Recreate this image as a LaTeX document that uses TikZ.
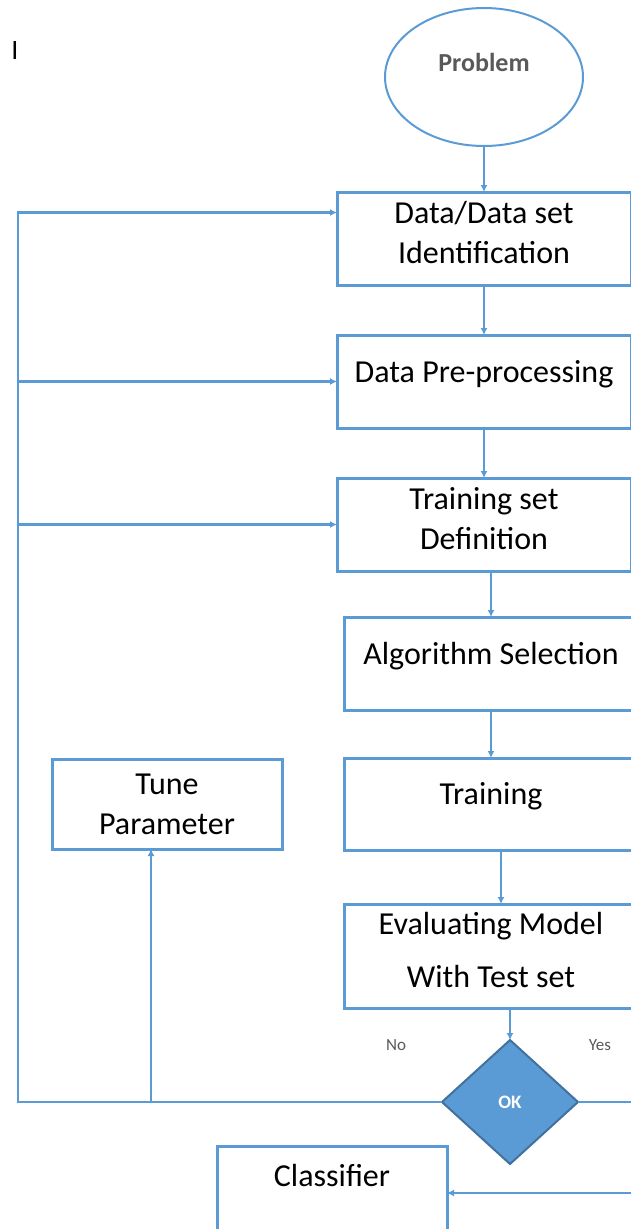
\documentclass[tikz,border=0pt]{standalone}
\usepackage{fontspec}
\setmainfont{Carlito}
\usetikzlibrary{arrows.meta, positioning, shapes.geometric}
\definecolor{msblue}{HTML}{5B9BD5}
\definecolor{msedge}{HTML}{41719C}
\definecolor{msgrey}{HTML}{595959}
\tikzset{
  block/.style={rectangle, draw=msblue, line width=3pt, minimum width=294pt, outer sep=0pt,
    minimum height=93pt, align=center, inner sep=2pt, font=\fontsize{32}{40}\selectfont},
  blockone/.style={block, text depth=21pt},
  blocktwo/.style={block, text depth=12pt},
  sidebox/.style={block, minimum width=230pt, minimum height=90pt},
  start/.style={ellipse, draw=msblue, line width=2pt, minimum width=198pt, minimum height=138pt,
    outer sep=0pt, font=\fontsize{26}{28}\selectfont\bfseries, text=msgrey, text depth=29pt},
  decision/.style={diamond, draw=msedge, line width=2pt, fill=msblue, minimum width=136pt,
    minimum height=124pt, inner sep=0pt, outer sep=0pt,
    font=\fontsize{19}{22}\selectfont\bfseries, text=white},
  smallnote/.style={font=\fontsize{17}{20}\selectfont, text=msgrey},
  arrow/.style={-{Latex[length=7pt, width=7pt]}, line width=2.5pt, msblue},
}
\begin{document}
\begin{tikzpicture}
\useasboundingbox (0,0) rectangle (630pt,-1229pt);
\node[font=\fontsize{28}{30}\selectfont] (mark) at (15pt,-51pt) {I};
% main chain
\node[blocktwo] (ident) at (484pt,-238.5pt) {Data/Data set\\Identification};
\node[start, above=46pt of ident] (prob) {Problem};
\node[blockone, below=50pt of ident] (prep) {Data Pre-processing};
\node[blocktwo, below=50pt of prep] (tset) {Training set\\Definition};
\node[blockone, below=46pt of tset, xshift=7pt] (algo) {Algorithm Selection};
\node[blockone, below=48pt of algo, minimum height=92pt] (train) {Training};
\node[blocktwo, below=54pt of train, minimum height=104pt] (eval) {Evaluating Model\\[13pt]With Test set};
\node[decision, below=32pt of eval, xshift=19pt] (ok) {OK};
\node[sidebox, left=62pt of train] (tune) {Tune\\Parameter};
\node[sidebox, minimum height=94pt, text depth=35pt] (clf) at (332pt,-1193pt) {Classifier};
\node[smallnote] (no) at ([xshift=-114pt, yshift=57pt]ok) {No};
\node[smallnote] (yes) at ([xshift=90pt, yshift=57pt]ok) {Yes};
\draw[arrow] (prob) -- (ident);
\draw[arrow] (ident) -- (prep);
\draw[arrow] (prep) -- (tset);
\draw[arrow] (tset.south -| algo.north) -- (algo.north);
\draw[arrow] (algo) -- (train);
\draw[arrow] ([xshift=10pt]train.south) -- ([xshift=10pt]eval.north);
\draw[arrow] (eval.south -| ok.north) -- (ok.north);
% No: back to the top
\coordinate (rail) at ([xshift=-424pt]ok.west);
\coordinate (tunein) at ([xshift=-16pt]tune.south);
\draw[arrow] (ok.west) -- (rail) |- ([yshift=26pt]ident.west);
\draw[arrow] (rail |- prep.west) -- (prep.west);
\draw[arrow] (rail |- tset.west) -- (tset.west);
\draw[arrow] (tunein |- ok.west) -- (tunein);
% Yes
\coordinate (yesrail) at ([xshift=82pt]ok.east);
\draw[arrow] (ok.east) -| (yesrail |- clf.east) -- (clf.east);
\end{tikzpicture}
\end{document}
